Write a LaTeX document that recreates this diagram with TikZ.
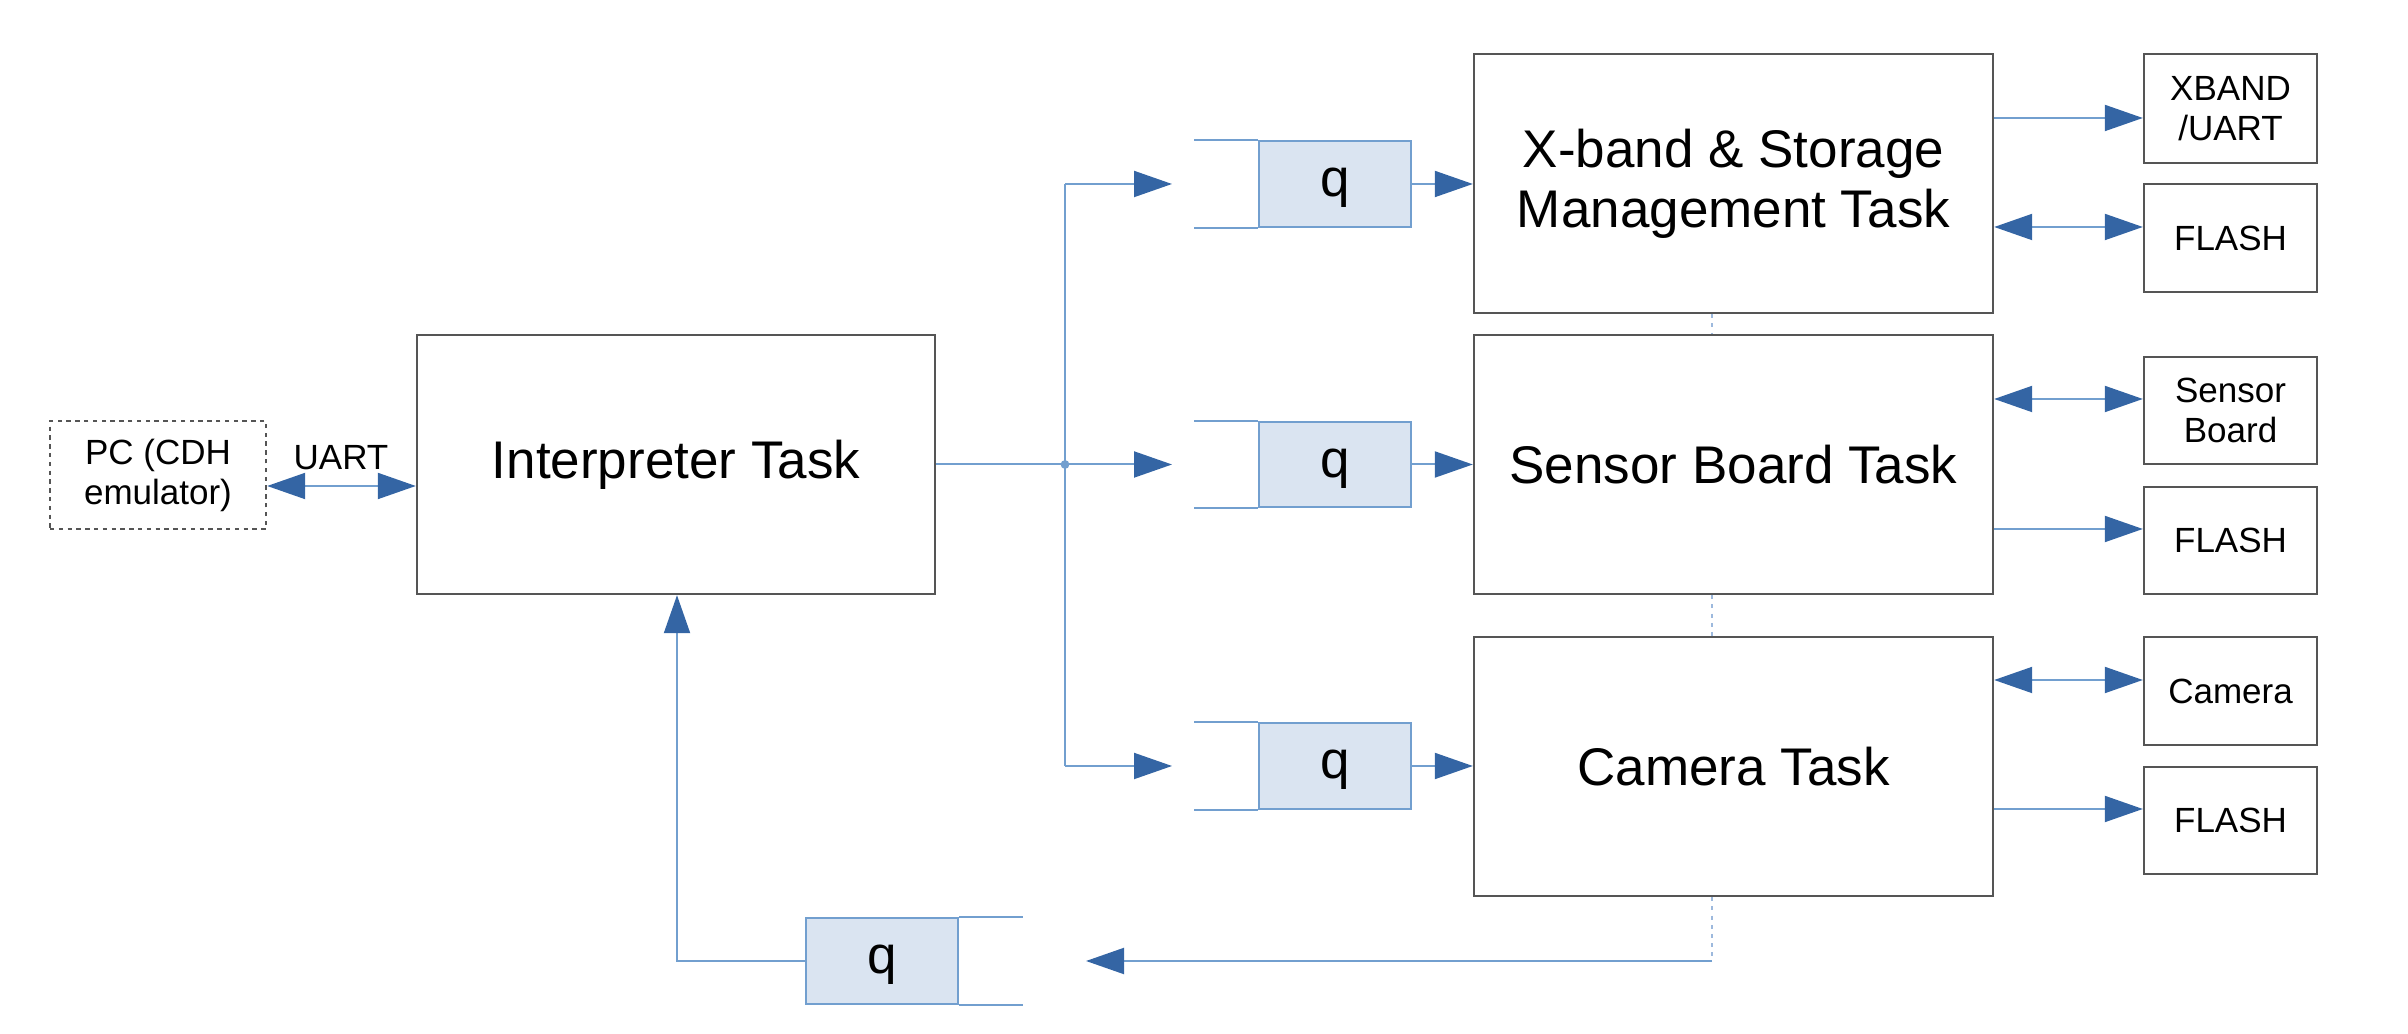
\documentclass[tikz,border=0pt]{standalone}
\usepackage{fontspec}
\setmainfont{Liberation Sans}
\usetikzlibrary{arrows.meta}
\definecolor{lblue}{HTML}{729FCF}
\definecolor{ablue}{HTML}{3465A4}
\definecolor{qfill}{HTML}{DAE4F1}
\definecolor{bgray}{HTML}{555555}
\definecolor{dblue}{HTML}{9DB9DD}
\newcommand\bigf{\fontsize{13.25pt}{15pt}\selectfont}
\newcommand\smallf{\fontsize{8.75pt}{10pt}\selectfont}
% #1 style, #2 x1, #3 y1, #4 x2, #5 y2, #6 name, #7 text
\newcommand\bx[7]{\node[#1, minimum width={(#4-#2)*0.25pt}, minimum height={(#5-#3)*0.25pt}] (#6) at ({(#2+#4)/2},{(#3+#5)/2}) {#7};}
\begin{document}
\begin{tikzpicture}[x=0.25pt,y=-0.25pt,
  tri/.tip={Triangle[length=9.5pt,width=6.5pt,color=ablue]},
  box/.style={draw=bgray,line width=0.6pt,fill=white,inner sep=0pt,align=center},
  bigbox/.style={box,font=\bigf},
  smbox/.style={box,font=\smallf},
  pcbox/.style={smbox,draw=bgray,dash pattern=on 1.1pt off 1.1pt},
  qbox/.style={draw=lblue,line width=0.5pt,fill=qfill,inner sep=0pt,font=\bigf,text height=9.3pt,text depth=2.8pt},
  ln/.style={draw=lblue,line width=0.5pt},
  ar/.style={ln,-tri},
  bi/.style={ln,tri-tri},
  dsh/.style={draw=dblue,line width=0.5pt,dash pattern=on 1pt off 1.3pt},
  lbl/.style={font=\smallf,inner sep=0pt}]
\useasboundingbox (0,0) rectangle (2408,1034);

% main boxes
\bx{pcbox}{50}{421}{266}{529}{pc}{PC (CDH\\emulator)}
\bx{bigbox}{417}{335}{935}{594}{interp}{Interpreter Task}
\bx{bigbox}{1474}{54}{1993}{313}{xb}{X-band \& Storage\\Management Task}
\bx{bigbox}{1474}{335}{1993}{594}{sb}{Sensor Board Task}
\bx{bigbox}{1474}{637}{1993}{896}{cam}{Camera Task}
% device boxes
\bx{smbox}{2144}{54}{2317}{163}{xu}{XBAND\\/UART}
\bx{smbox}{2144}{184}{2317}{292}{fa}{FLASH}
\bx{smbox}{2144}{357}{2317}{464}{sbd}{Sensor\\Board}
\bx{smbox}{2144}{487}{2317}{594}{fb}{FLASH}
\bx{smbox}{2144}{637}{2317}{745}{camd}{Camera}
\bx{smbox}{2144}{767}{2317}{874}{fc}{FLASH}
% queues
\bx{qbox}{1259}{141}{1411}{227}{qa}{q}
\bx{qbox}{1259}{422}{1411}{507}{qb}{q}
\bx{qbox}{1259}{723}{1411}{809}{qc}{q}
\bx{qbox}{806}{918}{958}{1004}{qd}{q}
\foreach \q in {qa,qb,qc}{
  \draw[ln] (\q.north west) -- ++(-64,0);
  \draw[ln] (\q.south west) -- ++(-64,0);
}
\draw[ln] (qd.north east) -- ++(64,0);
\draw[ln] (qd.south east) -- ++(64,0);

% UART link
\coordinate (yU) at (0,486);
\draw[bi] (pc.east |- yU) -- (interp.west |- yU);
\node[lbl] (uart) at (341,458) {UART};

% distribution from interpreter
\coordinate (j) at (1065,464.5);
\coordinate (jt) at (1065,184);
\coordinate (jb) at (1065,766);
\coordinate (tipx) at (1172,0);
\draw[ln] (interp.east) -- (j);
\draw[ln] (jt) -- (jb);
\fill[lblue] (j) circle (1.1pt);
\draw[ar] (jt) -- (jt -| tipx);
\draw[ar] (j) -- (j -| tipx);
\draw[ar] (jb) -- (jb -| tipx);

% queues to tasks
\draw[ar] (qa.east) -- (qa.east -| xb.west);
\draw[ar] (qb.east) -- (qb.east -| sb.west);
\draw[ar] (qc.east) -- (qc.east -| cam.west);

% task to devices
\coordinate (y1) at (0,118);
\coordinate (y2) at (0,227);
\coordinate (y3) at (0,399);
\coordinate (y4) at (0,529);
\coordinate (y5) at (0,680);
\coordinate (y6) at (0,809);
\draw[ar] (xb.east |- y1) -- (xu.west |- y1);
\draw[bi] (xb.east |- y2) -- (fa.west |- y2);
\draw[bi] (sb.east |- y3) -- (sbd.west |- y3);
\draw[ar] (sb.east |- y4) -- (fb.west |- y4);
\draw[bi] (cam.east |- y5) -- (camd.west |- y5);
\draw[ar] (cam.east |- y6) -- (fc.west |- y6);

% dashed links between tasks and return path
\coordinate (dx) at (1712,0);
\coordinate (cr) at (1712,961);
\coordinate (qin) at (1086,961);
\coordinate (lc) at (677,961);
\draw[dsh] (xb.south -| dx) -- (sb.north -| dx);
\draw[dsh] (sb.south -| dx) -- (cam.north -| dx);
\draw[dsh] (cam.south -| dx) -- (cr);
\draw[ar] (cr) -- (qin);
\draw[ar] (qd.west) -- (lc) -- (lc |- interp.south);
\end{tikzpicture}
\end{document}
